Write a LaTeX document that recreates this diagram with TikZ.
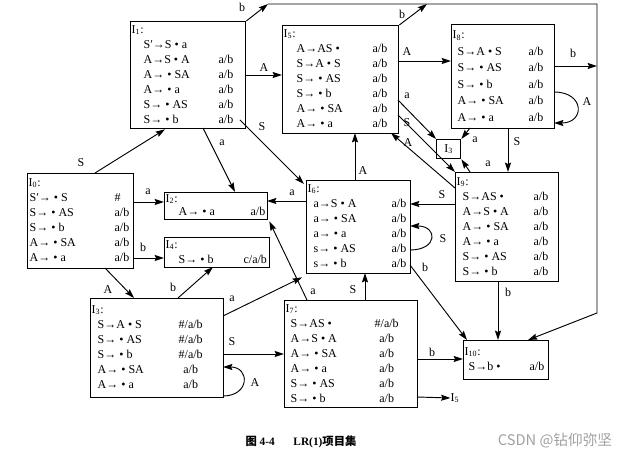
\documentclass[tikz,border=0pt]{standalone}
\usepackage{fontspec}
\setmainfont{Liberation Serif}
\newfontfamily\cjk{Noto Sans CJK SC}
\usetikzlibrary{arrows.meta, calc}
\newdimen\pxu \pxu=0.75pt
\definecolor{markgray}{HTML}{A0A0A0}
% header row and centred look-ahead of an item set
\newcommand{\hdr}[1]{\multicolumn{2}{@{\hspace{1\pxu}}l@{}}{I\textsubscript{#1}:}}
\newcommand{\ctr}[1]{\makebox[\linewidth]{#1}}

\begin{document}
\begin{tikzpicture}[x=0.75pt, y=-0.75pt, >={Stealth[length=7pt, width=4.5pt, inset=1pt]},
  itemset/.style={draw, line width=1pt, anchor=north west, inner sep=0pt,
    font=\fontsize{9}{11.25}\selectfont},
  lbl/.style={font=\fontsize{9}{11}\selectfont, inner sep=0pt},
  trans/.style={->, line width=0.7pt}]
  \useasboundingbox (0,0) rectangle (644,456);

  % Item sets
  \node[itemset, minimum width=115\pxu, minimum height=107\pxu] (I1) at (130,21)
    {\begin{tabular}{@{\hspace{13\pxu}}p{75\pxu}@{}p{27\pxu}@{}}
      \hdr{1}\\
      S′→S • a & \\
      A→S • A & a/b\\
      A→ • SA & a/b\\
      A→ • a & a/b\\
      S→ • AS & a/b\\
      S→ • b & a/b
    \end{tabular}};
  \node[itemset, minimum width=116\pxu, minimum height=108\pxu] (I5) at (282,25)
    {\begin{tabular}{@{\hspace{14\pxu}}p{76\pxu}@{}p{26\pxu}@{}}
      \hdr{5}\\
      A→AS • & a/b\\
      S→A • S & a/b\\
      S→ • AS & a/b\\
      S→ • b & a/b\\
      A→ • SA & a/b\\
      A→ • a & a/b
    \end{tabular}};
  \node[itemset, minimum width=103\pxu, minimum height=104\pxu] (I8) at (451,24)
    {\renewcommand{\arraystretch}{1.1}%
     \begin{tabular}{@{\hspace{6\pxu}}p{71\pxu}@{}p{26\pxu}@{}}
      \hdr{8}\\
      S→A • S & a/b\\
      S→ • AS & a/b\\
      S→ • b & a/b\\
      A→ • SA & a/b\\
      A→ • a & a/b
    \end{tabular}};
  \node[itemset, minimum width=24\pxu, minimum height=19\pxu] (I3b) at (436,139)
    {I\textsubscript{3}};
  \node[itemset, minimum width=103\pxu, minimum height=109\pxu] (I9) at (455,172)
    {\begin{tabular}{@{\hspace{7\pxu}}p{71\pxu}@{}p{25\pxu}@{}}
      \hdr{9}\\
      S→AS • & a/b\\
      A→S • A & a/b\\
      A→ • SA & a/b\\
      A→ • a & a/b\\
      S→ • AS & a/b\\
      S→ • b & a/b
    \end{tabular}};
  \node[itemset, minimum width=104\pxu, minimum height=93\pxu] (I6) at (306,180)
    {\begin{tabular}{@{\hspace{7\pxu}}p{78\pxu}@{}p{19\pxu}@{}}
      \hdr{6}\\
      a→S • A & a/b\\
      a→ • SA & a/b\\
      a→ • a & a/b\\
      s→ • AS & a/b\\
      s→ • b & a/b
    \end{tabular}};
  \node[itemset, minimum width=106\pxu, minimum height=95\pxu] (I0) at (27,173)
    {\begin{tabular}{@{\hspace{2\pxu}}p{85\pxu}@{}p{19\pxu}@{}}
      \hdr{0}\\
      S′→ • S & \#\\
      S→ • AS & a/b\\
      S→ • b & a/b\\
      A→ • SA & a/b\\
      A→ • a & a/b
    \end{tabular}};
  \node[itemset, minimum width=103\pxu, minimum height=27\pxu] (I2) at (164,192)
    {\renewcommand{\arraystretch}{0.87}%
     \begin{tabular}{@{\hspace{14\pxu}}p{72\pxu}@{}p{17\pxu}@{}}
      \hdr{2}\\
      A→ • a & a/b
    \end{tabular}};
  \node[itemset, minimum width=105\pxu, minimum height=30\pxu] (I4) at (164,237)
    {\begin{tabular}{@{\hspace{14\pxu}}p{65\pxu}@{}p{26\pxu}@{}}
      \hdr{4}\\
      S→ • b & c/a/b
    \end{tabular}};
  \node[itemset, minimum width=133\pxu, minimum height=99\pxu] (I3) at (90,298)
    {\begin{tabular}{@{\hspace{7\pxu}}p{73\pxu}@{}p{40\pxu}@{\hspace{13\pxu}}}
      \hdr{3}\\
      S→A • S & \ctr{\#/a/b}\\
      S→ • AS & \ctr{\#/a/b}\\
      S→ • b & \ctr{\#/a/b}\\
      A→ • SA & \ctr{a/b}\\
      A→ • a & \ctr{a/b}
    \end{tabular}};
  \node[itemset, minimum width=133\pxu, minimum height=107\pxu] (I7) at (284,300)
    {\begin{tabular}{@{\hspace{6\pxu}}p{75\pxu}@{}p{42\pxu}@{\hspace{10\pxu}}}
      \hdr{7}\\
      S→AS • & \ctr{\#/a/b}\\
      A→S • A & \ctr{a/b}\\
      A→ • SA & \ctr{a/b}\\
      A→ • a & \ctr{a/b}\\
      S→ • AS & \ctr{a/b}\\
      S→ • b & \ctr{a/b}
    \end{tabular}};
  \node[itemset, minimum width=85\pxu, minimum height=39\pxu] (I10) at (463,340)
    {\begin{tabular}{@{\hspace{5\pxu}}p{61\pxu}@{}p{19\pxu}@{}}
      \hdr{10}\\
      S→b • & a/b
    \end{tabular}};
  \node[lbl] (I5ref) at (455,398) {I\textsubscript{5}};

  % Bus of the b transitions
  \coordinate (busA) at (268,4);
  \coordinate (busB) at (427,4);
  \coordinate (busNE) at (597,4);
  \coordinate (busC) at (597,66);
  \coordinate (busSE) at (597,313);

  % Transitions
  \draw[trans] ($(I0.north west)+(68,0)$) -- ($(I1.south west)+(35,0)$);
  \draw[trans] ($(I0.north west)+(106,29)$) -- ($(I2.north west)+(0,10)$);
  \draw[trans] ($(I0.north west)+(106,85)$) -- ($(I4.north west)+(0,21)$);
  \draw[trans] ($(I0.north west)+(78,95)$) -- ($(I3.north west)+(44,0)$);
  \draw[trans] ($(I3.north west)+(88,0)$) -- ($(I4.north west)+(49,30)$);
  \draw[trans] ($(I3.north west)+(133,18)$) -- ($(I6.south west)+(-4,3)$);
  \draw[trans] ($(I3.north west)+(133,56)$) -- ($(I7.north west)+(0,54)$);
  \draw[trans] ($(I3.north west)+(133,98)$) .. controls +(27,0) and +(27,0) .. ($(I3.north west)+(133,69)$);
  \draw[trans] ($(I7.north west)+(81,0)$) -- ($(I6.north west)+(59,93)$);
  \draw[trans] ($(I7.north west)+(23,0)$) -- ($(I2.south east)+(1,1)$);
  \draw[trans] ($(I1.north west)+(110,99)$) -- ($(I6.north west)+(-2,4)$);
  \draw[trans] ($(I1.north west)+(73,107)$) -- ($(I2.north west)+(71,0)$);
  \draw[trans] ($(I6.north west)+(0,21)$) -- ($(I2.north west)+(103,9)$);
  \draw[trans] ($(I1.north west)+(115,54)$) -- ($(I5.north west)+(0,50)$);
  \draw[trans] (I1.north east) -- (busA);
  \draw[trans] (I5.north east) -- (busB);
  \draw[trans] ($(I8.north west)+(103,42)$) -- (busC);
  \draw[trans] (busA) -- (busNE) -- (busSE) -- ($(I10.north west)+(65,0)$);
  \draw[trans] ($(I5.north west)+(116,36)$) -- ($(I8.north west)+(0,37)$);
  \draw[trans] ($(I5.north west)+(116,75)$) -- (I3b.north west);
  \draw[trans] ($(I5.north west)+(116,90)$) -- (I9.north west);
  \draw[trans] ($(I9.north west)+(0,16)$) -- ($(I5.north west)+(109,108)$);
  \draw[trans] ($(I8.north west)+(19,104)$) -- (I3b.north east);
  \draw[trans] ($(I9.north west)+(15,0)$) -- (I3b.south east);
  \draw[trans] ($(I8.north west)+(57,104)$) -- ($(I9.north west)+(53,0)$);
  \draw[trans] ($(I8.north west)+(103,68)$) .. controls +(31,0) and +(31,0) .. ($(I8.north west)+(103,99)$);
  \draw[trans] ($(I9.north west)+(0,32)$) -- ($(I6.north west)+(104,24)$);
  \draw[trans] ($(I6.north west)+(104,70)$) .. controls +(28,0) and +(28,0) .. ($(I6.north west)+(104,46)$);
  \draw[trans] ($(I6.north west)+(104,85)$) -- ($(I10.north west)+(4,0)$);
  \draw[trans] ($(I6.north west)+(49,0)$) -- ($(I5.north west)+(73,108)$);
  \draw[trans] ($(I9.north west)+(43,109)$) -- ($(I10.north west)+(35,0)$);
  \draw[trans] ($(I7.north west)+(133,59)$) -- ($(I10.north west)+(0,19)$);
  \draw[trans] ($(I7.north west)+(133,97)$) -- (I5ref.west);

  % Transition labels
  \node[lbl] (l01) at (81,163) {S};
  \node[lbl] (l02) at (148,192) {a};
  \node[lbl] (l04) at (143,247) {b};
  \node[lbl] (l03) at (108,290) {A};
  \node[lbl] (l34) at (173,287) {b};
  \node[lbl] (l36) at (232,299) {a};
  \node[lbl] (l37) at (232,342) {S};
  \node[lbl] (l33) at (255,383) {A};
  \node[lbl] (l76) at (353,290) {S};
  \node[lbl] (l72) at (313,292) {a};
  \node[lbl] (l16) at (262,127) {S};
  \node[lbl] (l12) at (222,143) {a};
  \node[lbl] (l62) at (292,193) {a};
  \node[lbl] (l15) at (264,68) {A};
  \node[lbl] (l1b) at (242,7) {b};
  \node[lbl] (l5b) at (402,14) {b};
  \node[lbl] (l58) at (407,52) {A};
  \node[lbl] (l53) at (407,96) {a};
  \node[lbl] (l59) at (407,123) {S};
  \node[lbl] (l95) at (408,143) {A};
  \node[lbl] (l83) at (475,140) {a};
  \node[lbl] (l93) at (488,164) {a};
  \node[lbl] (l89) at (517,142) {S};
  \node[lbl] (l88) at (587,102) {A};
  \node[lbl] (l8b) at (573,53) {b};
  \node[lbl] (l96) at (442,195) {S};
  \node[lbl] (l66) at (443,239) {S};
  \node[lbl] (l610) at (425,267) {b};
  \node[lbl] (l65) at (363,171) {A};
  \node[lbl] (l910) at (508,292) {b};
  \node[lbl] (l710) at (432,352) {b};

  % Caption and mark
  \node[font=\fontsize{8.5}{10}\selectfont\bfseries] (cap) at (301,442)
    {{\cjk 图} 4-4\hspace{14pt}LR(1){\cjk 项目集}};
  \node[font=\cjk\fontsize{11}{13}\selectfont, text=markgray] (mark) at (555,441)
    {CSDN @钻仰弥坚};
\end{tikzpicture}
\end{document}
